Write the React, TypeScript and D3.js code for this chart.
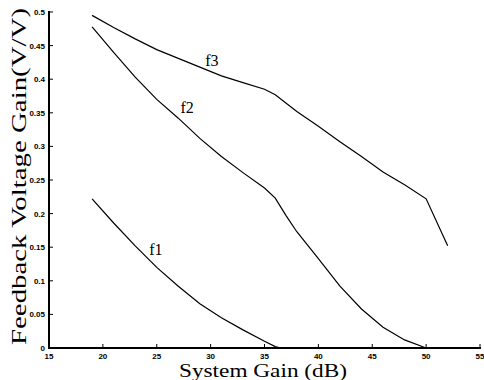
import React from "react";
import * as d3 from "d3";

const f1X = [19, 21, 23, 25, 27, 29, 31, 33, 35, 36, 36.5];
const f1Y = [0.222, 0.186, 0.152, 0.12, 0.092, 0.066, 0.045, 0.027, 0.01, 0.002, 0];
const f2X = [19, 21, 23, 25, 27, 29, 31, 33, 35, 36, 37, 38, 40, 42, 44, 46, 48, 50];
const f2Y = [0.478, 0.44, 0.403, 0.37, 0.342, 0.312, 0.285, 0.261, 0.238, 0.223, 0.197, 0.173, 0.133, 0.092, 0.058, 0.031, 0.012, 0];
const f3X = [19, 21, 23, 25, 27, 29, 31, 33, 35, 36, 38, 40, 42, 44, 46, 48, 50, 52];
const f3Y = [0.495, 0.477, 0.46, 0.444, 0.431, 0.418, 0.405, 0.395, 0.385, 0.377, 0.352, 0.33, 0.307, 0.285, 0.262, 0.243, 0.222, 0.152];
const xTicks = [15, 20, 25, 30, 35, 40, 45, 50, 55];
const yTicks = [0, 0.05, 0.1, 0.15, 0.2, 0.25, 0.3, 0.35, 0.4, 0.45, 0.5];
const seriesNames = ["f1", "f2", "f3"];
const labelPos = [
  [24.3, 0.138],
  [27.2, 0.35],
  [29.5, 0.42],
];

export default function App() {
  const W = 484, H = 380;
  const x = d3.scaleLinear().domain([15, 55]).range([49, 480]);
  const y = d3.scaleLinear().domain([0, 0.5]).range([348, 12]);
  const line = d3.line<[number, number]>().x((d) => x(d[0])).y((d) => y(d[1]));
  const series = [
    f1X.map((v, i) => [v, f1Y[i]] as [number, number]),
    f2X.map((v, i) => [v, f2Y[i]] as [number, number]),
    f3X.map((v, i) => [v, f3Y[i]] as [number, number]),
  ];
  const tickFont = "Liberation Sans, Arial, sans-serif";
  const serif = "Liberation Serif, DejaVu Serif, serif";
  return (
    <svg width={W} height={H} style={{ position: "absolute", left: 0, top: 0, background: "#fff" }}>
      {series.map((s, i) => (
        <path key={i} d={line(s) || ""} fill="none" stroke="#000" strokeWidth={1.2} />
      ))}
      {seriesNames.map((n, i) => (
        <text key={n} x={x(labelPos[i][0])} y={y(labelPos[i][1])} fontFamily={serif} fontSize={16} fill="#000">
          {n}
        </text>
      ))}
      <line x1={x(15)} x2={x(15)} y1={y(0)} y2={y(0.5) - 1} stroke="#000" strokeWidth={2} />
      <line x1={x(15) - 1} x2={x(55) + 1} y1={y(0)} y2={y(0)} stroke="#000" strokeWidth={2.2} />
      {xTicks.map((t) => (
        <g key={t}>
          <line x1={x(t)} x2={x(t)} y1={y(0)} y2={y(0) - 4} stroke="#000" strokeWidth={1} />
          <text x={x(t)} y={y(0) + 11} textAnchor="middle" fontFamily={tickFont} fontWeight="bold" fontSize={8} fill="#000">
            {t}
          </text>
        </g>
      ))}
      {yTicks.map((t) => (
        <g key={t}>
          <line x1={x(15)} x2={x(15) + 4} y1={y(t)} y2={y(t)} stroke="#000" strokeWidth={1} />
          <text x={x(15) - 4} y={y(t) + 3} textAnchor="end" fontFamily={tickFont} fontWeight="bold" fontSize={8} fill="#000">
            {t}
          </text>
        </g>
      ))}
      <text x={263} y={377} textAnchor="middle" fontFamily={serif} fontSize={19} textLength={168} lengthAdjust="spacingAndGlyphs" fill="#000">
        System Gain (dB)
      </text>
      <text
        transform={`translate(26,${(345 + 8) / 2}) rotate(-90)`}
        textAnchor="middle"
        fontFamily={serif}
        fontSize={21}
        textLength={337}
        lengthAdjust="spacingAndGlyphs"
        fill="#000"
      >
        Feedback Voltage Gain(V/V)
      </text>
    </svg>
  );
}
